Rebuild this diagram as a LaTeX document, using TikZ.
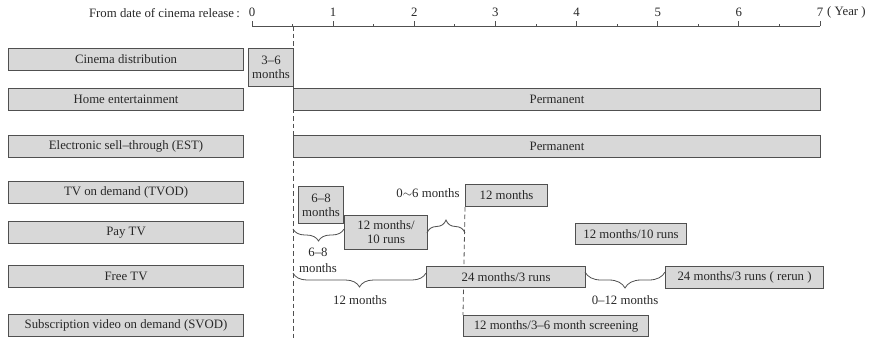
\documentclass[tikz,border=0pt]{standalone}
\usepackage{fontspec}
\setmainfont{Liberation Serif}
\usepackage{tikz}
\usetikzlibrary{positioning, decorations.pathreplacing, calc, backgrounds}

\definecolor{barfill}{RGB}{216,216,216}
\definecolor{barline}{RGB}{80,80,80}
\definecolor{inkgray}{RGB}{40,40,40}

\begin{document}
\begin{tikzpicture}[
  x=1pt, y=-1pt,
  font=\fontsize{12.8}{14}\selectfont, text=inkgray,
  media/.style={rectangle, draw=barline, fill=barfill, line width=1.1pt,
    minimum width=235pt, minimum height=22pt, anchor=north west, inner sep=0pt},
  bar/.style={rectangle, draw=barline, fill=barfill, line width=1.1pt,
    minimum height=22pt, anchor=north west, inner sep=1pt, align=center},
  guide/.style={draw=barline, line width=0.8pt, dash pattern=on 4.5pt off 3pt},
  brc/.style={draw=barline, line width=0.8pt, decorate,
    decoration={brace, amplitude=#1}},
  lbl/.style={align=center, inner sep=1pt}
]
\useasboundingbox (0,0) rectangle (876,341);

% time axis
\draw[barline, line width=0.8pt] (252,26) -- (820,26);
\foreach \yr in {0,...,7} {
  \draw[barline, line width=0.8pt] ({252+81.14*\yr},26) -- ({252+81.14*\yr},21);
  \node[lbl] (yr\yr) at ({252+81.14*\yr},12) {\yr};
}
\foreach \yr in {0,...,6}
  \draw[barline, line width=0.8pt] ({252+81.14*(\yr+0.5)},26) -- ({252+81.14*(\yr+0.5)},24);
\node[lbl, anchor=west] (unit) at (826,12) {( Year )};
\node[lbl, anchor=east] (start) at (241,13) {From date of cinema release\,:};

% media channels
\node[media] (cinema) at (8,48)  {Cinema distribution};
\node[media] (home)   at (8,88)  {Home entertainment};
\node[media] (est)    at (8,135) {Electronic sell--through (EST)};
\node[media] (tvod)   at (8,181) {TV on demand (TVOD)};
\node[media] (pay)    at (8,221) {Pay TV};
\node[media] (free)   at (8,265) {Free TV};
\node[media] (svod)   at (8,314) {Subscription video on demand (SVOD)};

% windows
\node[bar, minimum width=45pt, minimum height=38pt] (cineA) at (248,48) {3--6\\months};
\node[bar, minimum width=527pt] (homeA) at (293,88)  {Permanent};
\node[bar, minimum width=527pt] (estA)  at (293,135) {Permanent};
\node[bar, minimum width=45pt, minimum height=37pt] (tvodA) at (298,186) {6--8\\months};
\node[bar, minimum width=83pt, minimum height=34pt] (payA) at (344,215) {12 months/\\10 runs};
\node[bar, minimum width=82pt] (tvodB) at (465,184) {12 months};
\node[bar, minimum width=111pt, minimum height=21pt] (payB) at (575,223) {12 months/10 runs};
\node[bar, minimum width=159pt, minimum height=21pt] (freeA) at (426,266) {24 months/3 runs};
\node[bar, minimum width=158pt] (freeB) at (665,266) {24 months/3 runs ( rerun )};
\node[bar, minimum width=185pt, minimum height=21pt] (svodA) at (463,315) {12 months/3--6 month screening};

% release markers
\coordinate (halfyr) at (293,26);
\coordinate (floor) at (293,341);
\begin{scope}[on background layer]
\draw[guide] (halfyr) -- (floor);
\draw[guide] (tvodB.south west) -- (svodA.north west);
\end{scope}

% gaps
\coordinate (g1a) at (344,229);
\coordinate (g1b) at (293,229);
\coordinate (g2a) at (427,233);
\coordinate (g2b) at (465,233);
\coordinate (g3a) at (426,273);
\coordinate (g3b) at (293,273);
\coordinate (g4a) at (665,272);
\coordinate (g4b) at (585,272);
\draw[brc=12pt] (g1a) -- (g1b);
\draw[brc=13pt] (g2a) -- (g2b);
\draw[brc=14pt] (g3a) -- (g3b);
\draw[brc=16pt] (g4a) -- (g4b);
\node[lbl, font=\fontsize{12.8}{16}\selectfont] (gap1) at (318,260) {6--8\\months};
\node[lbl] (gap2) at (428,193) {0{$\sim$}6 months};
\node[lbl] (gap3) at (360,300) {12 months};
\node[lbl] (gap4) at (625,300) {0--12 months};
\end{tikzpicture}
\end{document}
